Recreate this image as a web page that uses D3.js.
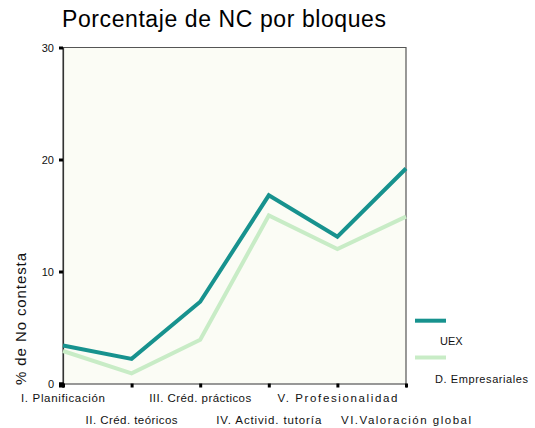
<!DOCTYPE html>
<html>
<head>
<meta charset="utf-8">
<script src="https://cdn.jsdelivr.net/npm/d3@7"></script>
<style>
  html, body { margin: 0; padding: 0; background: #ffffff; }
  svg { display: block; font-family: "Liberation Sans", Arial, Helvetica, sans-serif; }
</style>
</head>
<body>
<svg id="chart" width="535" height="428"></svg>
<script>
// Bloques evaluados
const categories = [
  "I. Planificación",
  "II. Créd. teóricos",
  "III. Créd. prácticos",
  "IV. Activid. tutoría",
  "V. Profesionalidad",
  "VI.Valoración global"
];
// % de No contesta por bloque
const uexValues = [3.4, 2.2, 7.3, 16.8, 13.1, 19.2];
const empValues = [2.9, 0.9, 3.9, 15.0, 12.0, 14.9];
const yTicks = [0, 10, 20, 30];
const seriesNames = ["UEX", "D. Empresariales"];

const svg = d3.select("#chart");
const plot = { left: 63, right: 406, top: 47.5, bottom: 383.5 };

const x = d3.scalePoint().domain(categories).range([plot.left, plot.right]);
const y = d3.scaleLinear().domain([0, 30]).range([plot.bottom, plot.top]);

// Fondo del área de gráfico
svg.append("rect")
  .attr("x", plot.left).attr("y", plot.top)
  .attr("width", plot.right - plot.left).attr("height", plot.bottom - plot.top)
  .attr("fill", "#fbfcf5");

// Marco
svg.append("path")
  .attr("d", `M${plot.left},${plot.bottom}V${plot.top}H${plot.right}V${plot.bottom}`)
  .attr("fill", "none").attr("stroke", "#555").attr("stroke-width", 1.2);

// Eje Y
const yAxis = svg.append("g")
  .attr("transform", `translate(${plot.left},0)`)
  .call(d3.axisLeft(y).tickValues(yTicks).tickSize(4).tickPadding(5));
yAxis.select(".domain").attr("stroke", "#333").attr("stroke-width", 1.2);
yAxis.selectAll(".tick line").attr("stroke", "#000").attr("stroke-width", 3);
yAxis.selectAll(".tick text")
  .attr("font-size", 11).attr("fill", "#111")
  .attr("font-family", "Liberation Sans, Arial, sans-serif");

// Eje X
const xAxis = svg.append("g")
  .attr("transform", `translate(0,${plot.bottom})`)
  .call(d3.axisBottom(x).tickSize(4).tickFormat(""));
xAxis.select(".domain").attr("stroke", "#333").attr("stroke-width", 1.2);
xAxis.selectAll(".tick line").attr("stroke", "#000").attr("stroke-width", 3);

// Esquina del origen
svg.append("rect")
  .attr("x", plot.left - 4).attr("y", plot.bottom - 1)
  .attr("width", 5).attr("height", 5).attr("fill", "#000");

// Etiquetas de categoría en dos filas alternas
const labelWidths = [84, 92, 102, 105, 120, 130];
svg.append("g").selectAll("text")
  .data(categories)
  .join("text")
  .attr("x", d => x(d))
  .attr("y", (d, i) => i % 2 === 0 ? 402 : 424)
  .attr("text-anchor", "middle")
  .attr("font-size", 11.5)
  .attr("fill", "#111")
  .attr("textLength", (d, i) => labelWidths[i])
  .attr("lengthAdjust", "spacing")
  .text(d => d);

// Título del eje Y
svg.append("text")
  .attr("transform", "translate(26,319) rotate(-90)")
  .attr("text-anchor", "middle")
  .attr("font-size", 15)
  .attr("fill", "#111")
  .attr("textLength", 132)
  .attr("lengthAdjust", "spacing")
  .text("% de No contesta");

// Título
svg.append("text")
  .attr("x", 62).attr("y", 27)
  .attr("font-size", 23)
  .attr("fill", "#000")
  .attr("textLength", 324)
  .attr("lengthAdjust", "spacing")
  .text("Porcentaje de NC por bloques");

// Líneas
const line = d3.line().x((d, i) => x(categories[i])).y(d => y(d));
const colors = ["#17928e", "#c8ecc6"];

svg.append("path")
  .datum(empValues)
  .attr("d", line)
  .attr("fill", "none").attr("stroke", colors[1])
  .attr("stroke-width", 4).attr("stroke-linejoin", "miter");

svg.append("path")
  .datum(uexValues)
  .attr("d", line)
  .attr("fill", "none").attr("stroke", colors[0])
  .attr("stroke-width", 4).attr("stroke-linejoin", "miter");

// Leyenda
const legend = svg.append("g");
const legendRows = [
  { lineY: 320.7, textX: 440, textY: 345 },
  { lineY: 357.5, textX: 435, textY: 383 }
];
seriesNames.forEach((name, i) => {
  const r = legendRows[i];
  legend.append("line")
    .attr("x1", 415).attr("x2", 446)
    .attr("y1", r.lineY).attr("y2", r.lineY)
    .attr("stroke", colors[i]).attr("stroke-width", 4);
  const t = legend.append("text")
    .attr("x", r.textX).attr("y", r.textY)
    .attr("font-size", 11).attr("fill", "#111")
    .text(name);
  if (i === 1) t.attr("textLength", 93).attr("lengthAdjust", "spacing");
});
</script>
</body>
</html>
